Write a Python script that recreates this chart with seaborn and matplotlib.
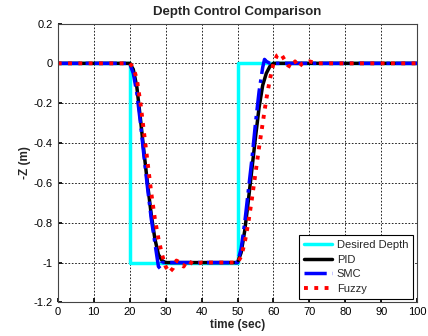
import numpy as np
import pandas as pd
import matplotlib
matplotlib.use('Agg')
import matplotlib.pyplot as plt
import seaborn as sns

# desired depth (step profile)
t_des = [0, 20, 20, 50, 50, 100]
z_des = [0, 0, -1, -1, 0, 0]

# PID response
t_pid = [0, 20, 21, 22, 23, 24, 25, 26, 27, 28, 29, 30, 50, 51, 52, 53, 54, 55, 56, 57, 58, 59, 60, 100]
z_pid = [0, 0, -0.03, -0.12, -0.28, -0.45, -0.61, -0.76, -0.88, -0.96, -0.99, -1.0,
         -1.0, -0.95, -0.84, -0.69, -0.53, -0.37, -0.22, -0.11, -0.05, -0.015, 0.0, 0.0]

# SMC response
t_smc = [0, 20, 21, 22, 23, 24, 25, 26, 27, 28, 28.5, 29, 50, 51, 52, 53, 54, 55, 56, 57, 57.5, 58, 59, 100]
z_smc = [0, 0, -0.05, -0.15, -0.3, -0.47, -0.63, -0.78, -0.9, -1.02, -1.03, -1.0,
         -1.0, -0.93, -0.8, -0.64, -0.48, -0.3, -0.14, -0.02, 0.02, 0.01, 0.0, 0.0]

# Fuzzy response
t_fuz = [0, 20, 21, 22, 23, 24, 25, 26, 27, 28, 29, 30, 31, 32, 33, 34, 35, 36, 37, 38, 40,
         50, 51, 52, 53, 54, 55, 56, 57, 58, 59, 60, 61, 62, 63, 64, 65, 66, 67, 68, 70, 72, 100]
z_fuz = [0, 0, -0.02, -0.08, -0.2, -0.35, -0.5, -0.65, -0.78, -0.88, -0.96, -1.02, -1.05, -1.03,
         -0.99, -1.0, -1.02, -0.99, -1.0, -1.01, -1.0,
         -1.0, -0.97, -0.9, -0.8, -0.68, -0.55, -0.42, -0.3, -0.18, -0.08, 0.0, 0.04, 0.05, 0.02,
         -0.01, -0.02, 0.01, -0.02, 0.0, 0.01, 0.0, 0.0]

sns.set_theme(style="ticks")
plt.rcParams['font.family'] = ['Liberation Sans', 'DejaVu Sans']

fig, ax = plt.subplots(figsize=(4.28, 3.36), dpi=100)

sns.lineplot(x=t_des, y=z_des, ax=ax, color='cyan', linewidth=2.5, label='Desired Depth',
             sort=False, estimator=None)
sns.lineplot(x=t_pid, y=z_pid, ax=ax, color='black', linewidth=2.5, label='PID',
             sort=False, estimator=None)
sns.lineplot(x=t_smc, y=z_smc, ax=ax, color='blue', linewidth=2.5, linestyle='-.', label='SMC',
             sort=False, estimator=None)
sns.lineplot(x=t_fuz, y=z_fuz, ax=ax, color='red', linewidth=2.8, linestyle=':', label='Fuzzy',
             sort=False, estimator=None)

ax.set_xlim(0, 100)
ax.set_ylim(-1.2, 0.2)
ax.set_xticks(np.arange(0, 101, 10))
ax.set_yticks([0.2, 0, -0.2, -0.4, -0.6, -0.8, -1, -1.2])
ax.set_yticklabels(['0.2', '0', '-0.2', '-0.4', '-0.6', '-0.8', '-1', '-1.2'])
ax.grid(True, color='black', linestyle=(0, (2, 2)), linewidth=0.6)
ax.tick_params(direction='in', labelsize=8, length=3, color='black', labelcolor='black')
for s in ax.spines.values():
    s.set_color('#444444')
    s.set_linewidth(0.8)

ax.set_title('Depth Control Comparison', fontsize=9.5, fontweight='bold')
ax.set_xlabel('time (sec)', fontsize=8.5, fontweight='bold', labelpad=1)
ax.set_ylabel('-Z (m)', fontsize=8.5, fontweight='bold', labelpad=2)

leg = ax.legend(loc='lower right', fontsize=8, fancybox=False, framealpha=1,
                edgecolor='black', borderaxespad=0.35, handlelength=2.6, handletextpad=0.4,
                labelspacing=0.4, borderpad=0.45)
leg.get_frame().set_linewidth(0.8)

plt.subplots_adjust(left=0.135, right=0.975, top=0.93, bottom=0.1)
plt.savefig('out.png', dpi=100)
